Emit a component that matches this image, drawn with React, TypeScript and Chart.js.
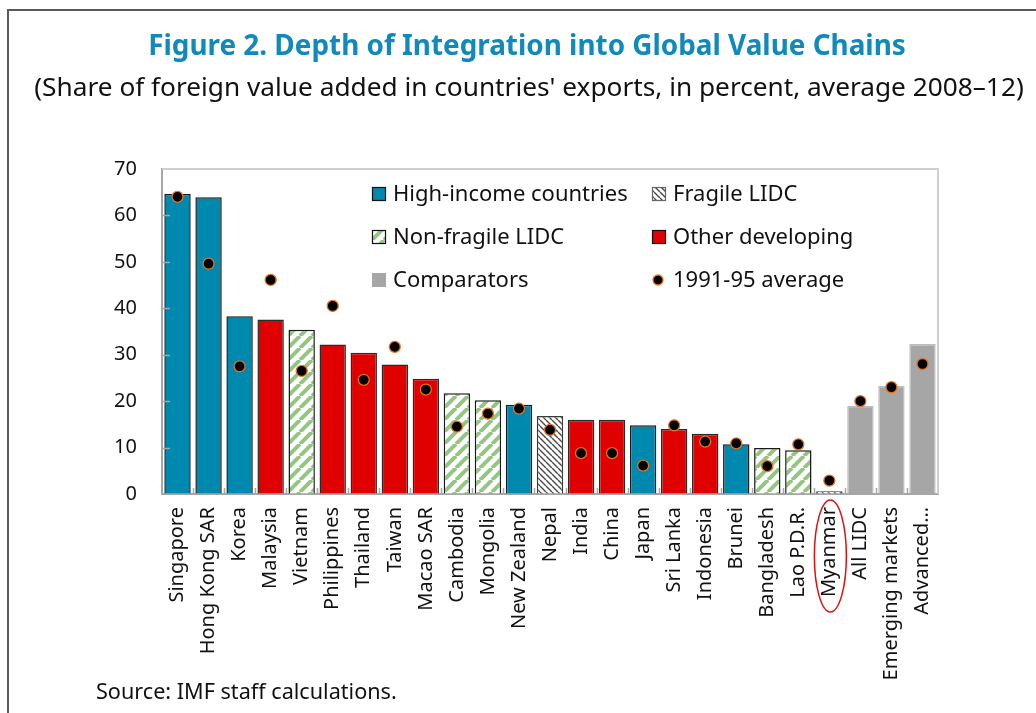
import React, { useEffect, useRef } from 'react';
import { Chart, registerables } from 'chart.js';

Chart.register(...registerables);

const categories = ['Singapore', 'Hong Kong SAR', 'Korea', 'Malaysia', 'Vietnam', 'Philippines', 'Thailand', 'Taiwan', 'Macao SAR', 'Cambodia', 'Mongolia', 'New Zealand', 'Nepal', 'India', 'China', 'Japan', 'Sri Lanka', 'Indonesia', 'Brunei', 'Bangladesh', 'Lao P.D.R.', 'Myanmar', 'All LIDC', 'Emerging markets', 'Advanced…'];
const share2008to12 = [64.6, 63.9, 38.3, 37.6, 35.4, 32.2, 30.4, 27.9, 24.8, 21.7, 20.2, 19.2, 16.8, 16.0, 16.0, 14.8, 14.0, 13.0, 10.7, 9.9, 9.4, 0.6, 19.0, 23.3, 32.3];
const average1991to95 = [64.0, 49.6, 27.5, 46.1, 26.5, 40.5, 24.6, 31.7, 22.5, 14.5, 17.3, 18.4, 13.8, 8.8, 8.8, 6.1, 14.8, 11.3, 10.9, 6.0, 10.7, 2.9, 20.0, 23.0, 28.0];
const groups = ['high', 'high', 'high', 'other', 'nonfragile', 'other', 'other', 'other', 'other', 'nonfragile', 'nonfragile', 'high', 'fragile', 'other', 'other', 'high', 'other', 'other', 'high', 'nonfragile', 'nonfragile', 'fragile', 'comparator', 'comparator', 'comparator'];
const yTickValues = [0, 10, 20, 30, 40, 50, 60, 70];
const legendRows = [
  [{ key: 'high', label: 'High-income countries' }, { key: 'fragile', label: 'Fragile LIDC' }],
  [{ key: 'nonfragile', label: 'Non-fragile LIDC' }, { key: 'other', label: 'Other developing' }],
  [{ key: 'comparator', label: 'Comparators' }, { key: 'dot', label: '1991-95 average' }],
];
const titleText = 'Figure 2. Depth of Integration into Global Value Chains';
const subtitleText = "(Share of foreign value added in countries' exports, in percent, average 2008–12)";
const sourceText = 'Source: IMF staff calculations.';
const highlighted = 'Myanmar';

const FONT = '"Noto Sans", "Open Sans", sans-serif';
const TEAL = '#0089AE';
const RED = '#E00000';
const GRAY = '#A6A6A6';

function stripePattern(color: string, size: number, width: number, dir: 'up' | 'down') {
  const c = document.createElement('canvas');
  c.width = size;
  c.height = size;
  const g = c.getContext('2d')!;
  g.fillStyle = '#fff';
  g.fillRect(0, 0, size, size);
  g.strokeStyle = color;
  g.lineWidth = width;
  g.beginPath();
  for (let k = -1; k <= 1; k++) {
    if (dir === 'up') {
      g.moveTo(k * size, size);
      g.lineTo(k * size + size, 0);
    } else {
      g.moveTo(k * size, 0);
      g.lineTo(k * size + size, size);
    }
  }
  g.stroke();
  return g.createPattern(c, 'repeat')!;
}

export default function App() {
  const ref = useRef<HTMLCanvasElement>(null);

  useEffect(() => {
    const canvas = ref.current!;
    const nonFragile = stripePattern('#93C77F', 12, 4, 'up');
    const fragile = stripePattern('#4a4a4a', 6, 1.4, 'down');
    const fills: Record<string, any> = { high: TEAL, other: RED, nonfragile: nonFragile, fragile, comparator: GRAY };
    const borders: Record<string, string> = { high: '#1a1a1a', other: '#2a2a2a', nonfragile: '#1a1a1a', fragile: '#3a3a3a', comparator: '#BDBDBD' };

    const fitSize = (ctx: CanvasRenderingContext2D, text: string, weight: string, target: number) => {
      ctx.font = `${weight} 20px ${FONT}`;
      return (20 * target) / ctx.measureText(text).width;
    };

    const decor = {
      id: 'decor',
      afterDraw(chart: any) {
        const { ctx, chartArea: a, scales } = chart;
        const x = scales.x;
        const y = scales.y;
        ctx.save();
        // plot frame top/right
        ctx.strokeStyle = '#CFCFCF';
        ctx.lineWidth = 2;
        ctx.beginPath();
        ctx.moveTo(a.left, a.top);
        ctx.lineTo(a.right, a.top);
        ctx.lineTo(a.right, a.bottom);
        ctx.stroke();
        // inward y tick marks
        ctx.strokeStyle = '#A6A6A6';
        ctx.lineWidth = 1.5;
        ctx.beginPath();
        for (const v of yTickValues) {
          if (v === 0 || v === 70) continue;
          const py = Math.round(y.getPixelForValue(v)) + 0.5;
          ctx.moveTo(a.left, py);
          ctx.lineTo(a.left + 8, py);
        }
        // category boundary marks
        const step = (a.right - a.left) / categories.length;
        for (let i = 1; i < categories.length; i++) {
          const px = Math.round(a.left + i * step) + 0.5;
          ctx.moveTo(px, a.bottom);
          ctx.lineTo(px, a.bottom - 6);
        }
        ctx.stroke();

        // legend
        const colX = [372, 652];
        const rowY = [194, 237, 280];
        ctx.font = `22px ${FONT}`;
        ctx.textBaseline = 'middle';
        ctx.textAlign = 'left';
        legendRows.forEach((row, r) => {
          row.forEach((item, c) => {
            const bx = colX[c];
            const by = rowY[r];
            if (item.key === 'dot') {
              ctx.beginPath();
              ctx.arc(bx + 6, by, 5, 0, Math.PI * 2);
              ctx.fillStyle = '#000';
              ctx.fill();
              ctx.lineWidth = 1.3;
              ctx.strokeStyle = '#E8711A';
              ctx.stroke();
            } else {
              ctx.fillStyle = fills[item.key];
              ctx.fillRect(bx, by - 7, 14, 14);
              if (item.key !== 'comparator') {
                ctx.lineWidth = 1.2;
                ctx.strokeStyle = item.key === 'fragile' ? '#666' : '#111';
                ctx.strokeRect(bx + 0.5, by - 6.5, 13, 13);
              }
            }
            ctx.fillStyle = '#111';
            ctx.fillText(item.label, bx + 21, by + 1);
          });
        });

        // highlight ellipse
        const idx = categories.indexOf(highlighted);
        const cx = x.getPixelForValue(idx) + 1;
        ctx.beginPath();
        ctx.ellipse(cx, 556, 16, 56, 0, 0, Math.PI * 2);
        ctx.strokeStyle = '#E01010';
        ctx.lineWidth = 1.5;
        ctx.stroke();

        // titles
        ctx.textAlign = 'center';
        ctx.textBaseline = 'alphabetic';
        const ts = fitSize(ctx, titleText, 'bold', 758);
        ctx.font = `bold ${ts}px ${FONT}`;
        ctx.fillStyle = '#0F8ABB';
        ctx.fillText(titleText, 527, 55);
        const ss = fitSize(ctx, subtitleText, 'normal', 990);
        ctx.font = `normal ${ss}px ${FONT}`;
        ctx.fillStyle = '#111';
        ctx.fillText(subtitleText, 529, 96);
        ctx.textAlign = 'left';
        const ss2 = fitSize(ctx, sourceText, 'normal', 301);
        ctx.font = `normal ${ss2}px ${FONT}`;
        ctx.fillText(sourceText, 96, 699);

        // outer frame
        ctx.strokeStyle = '#5A5A5A';
        ctx.lineWidth = 2;
        ctx.beginPath();
        ctx.moveTo(8, 713);
        ctx.lineTo(8, 10);
        ctx.lineTo(1036, 10);
        ctx.stroke();
        ctx.restore();
      },
    };

    const chart = new Chart(canvas, {
      type: 'bar',
      data: {
        labels: categories,
        datasets: [
          {
            type: 'line',
            label: '1991-95 average',
            data: average1991to95,
            showLine: false,
            pointRadius: 5.5,
            pointHoverRadius: 5.5,
            pointBackgroundColor: '#000',
            pointBorderColor: '#E8711A',
            pointBorderWidth: 1.3,
            order: 0,
          } as any,
          {
            type: 'bar',
            label: '2008-12',
            data: share2008to12,
            backgroundColor: groups.map((g) => fills[g]),
            borderColor: groups.map((g) => borders[g]),
            borderWidth: 1.5,
            categoryPercentage: 1,
            barPercentage: 0.85,
            order: 1,
          },
        ],
      },
      options: {
        responsive: false,
        animation: false,
        devicePixelRatio: 1,
        layout: { padding: { left: 0, top: 169, right: 98, bottom: 29 } },
        plugins: { legend: { display: false }, tooltip: { enabled: false }, title: { display: false } },
        scales: {
          x: {
            afterFit: (s: any) => { s.height = 190; },
            grid: { display: true, drawOnChartArea: false, drawTicks: false },
            border: { color: '#A6A6A6', width: 2 },
            ticks: {
              autoSkip: false,
              minRotation: 90,
              maxRotation: 90,
              padding: 13,
              color: '#111',
              font: { family: FONT, size: 20 },
            },
          },
          y: {
            min: 0,
            max: 70,
            afterFit: (s: any) => { s.width = 162; },
            afterBuildTicks: (s: any) => { s.ticks = yTickValues.map((v) => ({ value: v })); },
            grid: { display: true, drawOnChartArea: false, drawTicks: false },
            border: { color: '#A6A6A6', width: 2 },
            ticks: { padding: 25, color: '#111', font: { family: FONT, size: 20 } },
          },
        },
      },
      plugins: [decor],
    });
    return () => chart.destroy();
  }, []);

  return (
    <div style={{ position: 'absolute', left: 0, top: 0, width: 1036, height: 713, background: '#fff' }}>
      <canvas ref={ref} width={1036} height={713} style={{ display: 'block' }} />
    </div>
  );
}
